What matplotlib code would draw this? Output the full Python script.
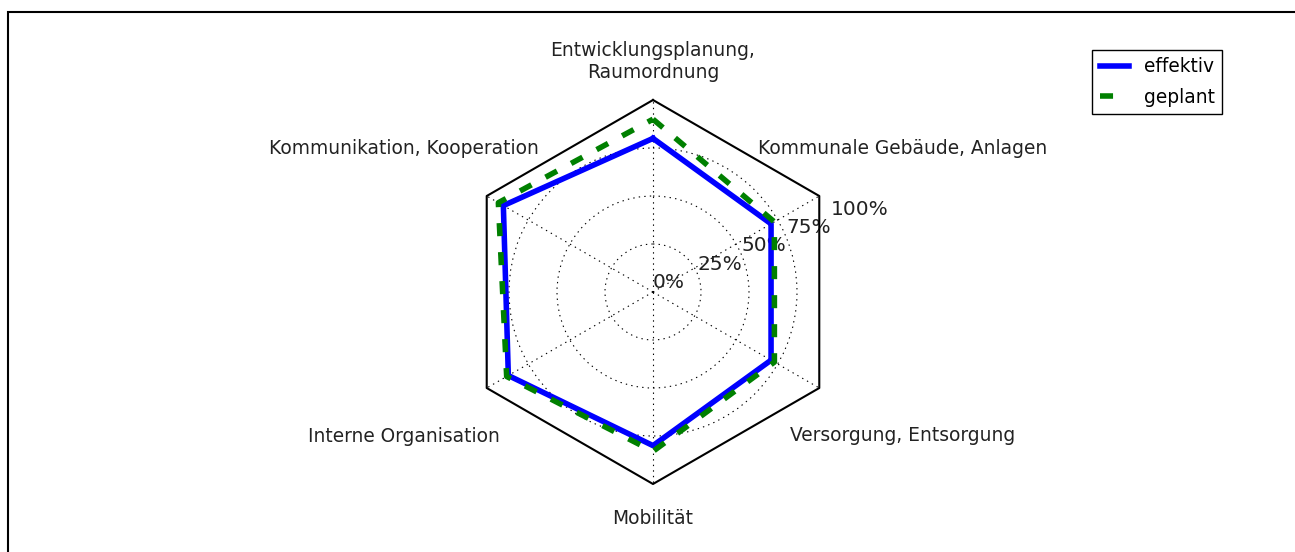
# Netzdiagramm: effektiv vs. geplant
import numpy as np
import matplotlib.pyplot as plt
from matplotlib.patches import Rectangle

plt.rcParams['lines.scale_dashes'] = False

# Kategorien (im Uhrzeigersinn ab oben)
kategorien = ['Entwicklungsplanung,\nRaumordnung', 'Kommunale Gebäude, Anlagen',
              'Versorgung, Entsorgung', 'Mobilität', 'Interne Organisation',
              'Kommunikation, Kooperation']
effektiv = [0.80, 0.71, 0.71, 0.80, 0.87, 0.90]
geplant = [0.90, 0.73, 0.73, 0.83, 0.88, 0.93]
r_ticks = [0, 0.25, 0.5, 0.75, 1.0]
r_labels = ['0%', '25%', '50%', '75%', '100%']
label_abstand = [1.2, 1.5, 1.5, 1.18, 1.5, 1.5]

n = len(kategorien)
theta = np.linspace(0, 2 * np.pi, n, endpoint=False)
theta_zu = np.append(theta, theta[0])

fig = plt.figure(figsize=(12.95, 5.52), dpi=100)
ax = fig.add_axes([461 / 1295, 68 / 552, 384 / 1295, 384 / 552], polar=True)
ax.set_theta_offset(np.pi / 2)
ax.set_theta_direction(-1)
ax.spines['polar'].set_visible(False)

# Sechseck-Rahmen
ax.plot(theta_zu, np.ones(n + 1), color='k', lw=1.5, clip_on=False)

l1, = ax.plot(theta_zu, np.append(effektiv, effektiv[0]), color='b', lw=4,
              label='effektiv', clip_on=False)
l2, = ax.plot(theta_zu, np.append(geplant, geplant[0]), color='g', lw=4,
              ls=(0, (9.4, 11.5)), label='geplant', clip_on=False)

ax.set_thetagrids(np.degrees(theta), [''] * n)
ax.set_rgrids(r_ticks, r_labels, angle=67.5, fontsize=14.5, color='#222222')
ax.set_ylim(0, 1)
ax.grid(True, color='k', ls=(0, (1, 3)), lw=0.8)
ax.yaxis.get_gridlines()[-1].set_visible(False)
ax.tick_params(length=0)
ax.tick_params(axis='y', pad=0)

# Achsenbeschriftungen
for i, lab in enumerate(kategorien):
    ax.text(theta[i], label_abstand[i], lab, ha='center', va='center',
            fontsize=13.4, color='#222222')

fig.legend(handles=[l1, l2], loc='upper right',
           bbox_to_anchor=(1222 / 1295, 1 - 50 / 552), borderaxespad=0,
           fancybox=False, edgecolor='k', framealpha=1, fontsize=13.4,
           handlelength=1.55, labelspacing=0.62)

# Rahmen um die Abbildung
fig.add_artist(Rectangle((8 / 1295, -0.1), 1.2, 1 - 12 / 552 + 0.1,
                         transform=fig.transFigure, fill=False, lw=1.5, ec='k'))

fig.savefig('out.png', dpi=100)
